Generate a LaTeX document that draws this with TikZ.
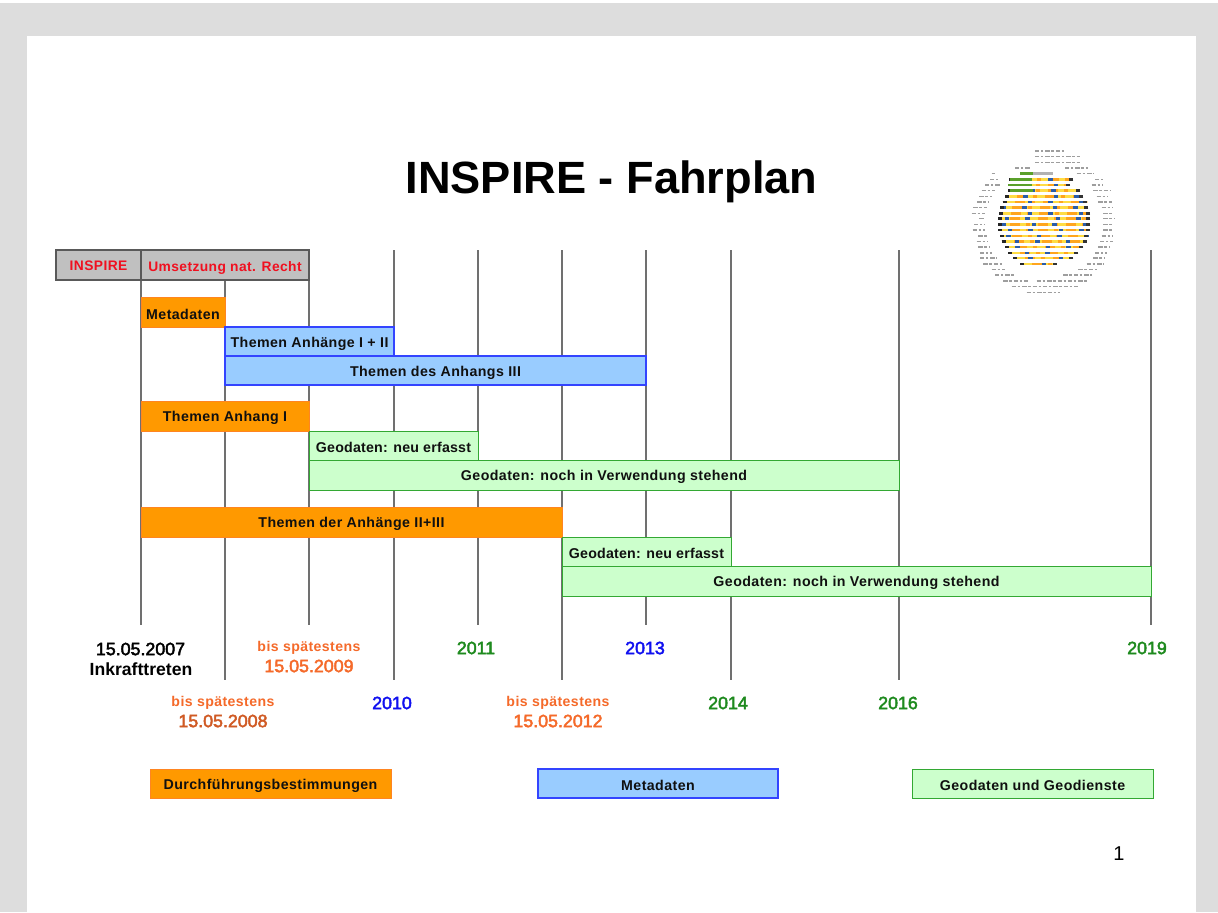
\documentclass[tikz,border=0pt]{standalone}
\usepackage{fontspec}
\setmainfont{Liberation Sans}
\definecolor{pagegrey}{HTML}{DDDDDD}
\definecolor{axisgrey}{HTML}{707070}
\definecolor{barorange}{HTML}{FF9900}
\definecolor{edgeorange}{HTML}{FF7A33}
\definecolor{barblue}{HTML}{99CCFF}
\definecolor{edgeblue}{HTML}{3344FF}
\definecolor{bargreen}{HTML}{CCFFCC}
\definecolor{edgegreen}{HTML}{33A833}
\definecolor{bargrey}{HTML}{C0C0C0}
\definecolor{txtred}{HTML}{F01020}
\definecolor{txtorange}{HTML}{F56A2A}
\definecolor{txtgreen}{HTML}{1E8A1E}
\definecolor{txtblue}{HTML}{1010F0}
\definecolor{txtdark}{HTML}{101010}
\definecolor{logoyellow}{HTML}{FFDD44}
\definecolor{logoorange}{HTML}{FFA51E}
\definecolor{logoblue}{HTML}{2A5CA8}
\definecolor{logogreen}{HTML}{5AA02A}
\newfontfamily\spaced[LetterSpace=3]{Liberation Sans}
\newfontfamily\tight[LetterSpace=1.5]{Liberation Sans}
\newfontfamily\semibold[FakeBold=2.6]{Liberation Sans}
\tikzset{
  x=0.5pt,y=-0.5pt,
  axisline/.style={draw=axisgrey,line width=0.85pt},
  barlabel/.style={font=\fontsize{7.1}{8}\selectfont\spaced\bfseries,text=txtdark,inner sep=0pt,yshift=-1.1pt},
  orangebar/.style={draw=edgeorange!65!barorange,fill=barorange,line width=0.5pt},
  bluebar/.style={draw=edgeblue,fill=barblue,line width=0.6pt},
  greenbar/.style={draw=edgegreen,fill=bargreen,line width=0.5pt},
  greybar/.style={draw=black!65,fill=bargrey,line width=0.6pt},
  datelabel/.style={font=\fontsize{8.9}{10}\selectfont\semibold,inner sep=0pt},
  smalllabel/.style={font=\fontsize{7.05}{8}\selectfont\spaced\bfseries,inner sep=0pt},
  headlabel/.style={font=\fontsize{6.9}{8}\selectfont\spaced\bfseries,inner sep=0pt,text=txtred},
  logostripe/.style={line width=1.2pt},
  logodash/.style={line width=0.8pt,draw=black!38,dash pattern=on 2.2pt off 0.8pt on 1.2pt off 1pt},
}
\begin{document}
\begin{tikzpicture}
\useasboundingbox (0,0) rectangle (1218,912);
\fill[white] (0,0) rectangle (1218,912);
\fill[pagegrey] (0,3) rectangle (1218,912);
\fill[white] (27,36) rectangle (1196,912);

\node[inner sep=0pt,font=\fontsize{22.6}{26}\selectfont\bfseries] (title) at (611.5,182) {INSPIRE - Fahrplan};

% grid lines
\foreach \gx/\gt/\gb in {141/280/625,225/280/680,309/280/625,394/250/680,478/250/625,562/250/680,646/250/625,731/250/680,899/250/680,1151/250/625}
  \draw[axisline] (\gx,\gt) -- (\gx,\gb);

% header
\draw[greybar] (56,250) rectangle (141,280) node[midway,name=hinspire,headlabel,yshift=-0.2pt] {INSPIRE};
\draw[greybar] (141,250) rectangle (309,280) node[midway,name=hrecht,headlabel,yshift=-1.4pt] {Umsetzung nat. Recht};

% bars
\draw[orangebar] (141,297) rectangle (225,327) node[midway,name=b1,barlabel] {Metadaten};
\draw[bluebar] (225,327) rectangle (394,356) node[midway,name=b2,barlabel] {Themen Anhänge I + II};
\draw[bluebar] (225,356) rectangle (646,385) node[midway,name=b3,barlabel] {Themen des Anhangs III};
\draw[orangebar] (141,401) rectangle (309,431) node[midway,name=b4,barlabel] {Themen Anhang I};
\draw[greenbar] (309,431) rectangle (478,460) node[midway,name=b5,barlabel,font=\fontsize{7.1}{8}\selectfont\tight\bfseries] {Geodaten: neu erfasst};
\draw[greenbar] (309,460) rectangle (899,490) node[midway,name=b6,barlabel] {Geodaten: noch in Verwendung stehend};
\draw[orangebar] (141,507) rectangle (562,537) node[midway,name=b7,barlabel] {Themen der Anhänge II+III};
\draw[greenbar] (562,537) rectangle (731,566) node[midway,name=b8,barlabel,font=\fontsize{7.1}{8}\selectfont\tight\bfseries] {Geodaten: neu erfasst};
\draw[greenbar] (562,566) rectangle (1151,596) node[midway,name=b9,barlabel] {Geodaten: noch in Verwendung stehend};

% dates
\node[datelabel,text=black] (d1) at (140.5,649) {15.05.2007};
\node[datelabel,text=black,font=\fontsize{8.8}{10}\selectfont\bfseries] (d1b) at (141,669) {Inkrafttreten};
\node[smalllabel,text=txtorange] (d2) at (309,648) {bis spätestens};
\node[datelabel,text=txtorange] (d2b) at (309,666) {15.05.2009};
\node[smalllabel,text=txtorange] (d3) at (223,703) {bis spätestens};
\node[datelabel,text=txtorange!85!black] (d3b) at (223,721) {15.05.2008};
\node[datelabel,text=txtblue] (d4) at (392,703) {2010};
\node[datelabel,text=txtgreen] (d5) at (476,648) {2011};
\node[smalllabel,text=txtorange] (d6) at (558,703) {bis spätestens};
\node[datelabel,text=txtorange] (d6b) at (558,721) {15.05.2012};
\node[datelabel,text=txtblue] (d7) at (645,648) {2013};
\node[datelabel,text=txtgreen] (d8) at (728,703) {2014};
\node[datelabel,text=txtgreen] (d9) at (898,703) {2016};
\node[datelabel,text=txtgreen] (d10) at (1147,648) {2019};

% legend
\draw[orangebar] (150,769) rectangle (391,798) node[midway,name=l1,barlabel] {Durchführungsbestimmungen};
\draw[bluebar] (538,769) rectangle (778,798) node[midway,name=l2,barlabel] {Metadaten};
\draw[greenbar] (912,769) rectangle (1153,798) node[midway,name=l3,barlabel] {Geodaten und Geodienste};

\node[inner sep=0pt,font=\fontsize{10}{12}\selectfont] (pageno) at (1119,854) {1};

% logo: globe of stripes; numbers are 3x zoom offsets from (950,140)
\begin{scope}[shift={(950,140)},x=0.1667pt,y=-0.1667pt]
\foreach \ly/\la/\lb in {33/255/345,50/255/390,68/255/390,84/195/240,84/345/415,101/125/135,101/380/430,118/120/150,118/435/460,135/105/150,135/425/460,152/95/135,152/430/480,169/88/125,169/440/475,186/82/115,186/445/485,203/70/110,203/455/490,220/65/105,220/460/490,236/88/105,236/460/495,253/72/105,253/460/490,270/68/105,270/460/490,287/85/110,287/455/490,304/80/112,304/450/490,321/85/120,321/445/480,338/90/125,338/435/470,354/90/142,354/430/465,371/100/160,371/410/460,388/125/165,388/385/445,405/135/195,405/340/425,422/160/235,422/260/410,439/185/385,457/230/330}
  \draw[logodash] (\la,\ly) -- (\lb,\ly);
\foreach \ly/\la/\lb in {118/178/370,135/175/360,152/175/390,169/165/400,186/158/410,203/150/415,220/148/420,236/145/420,253/145/420,270/145/420,287/150/415,304/155/410,321/165/400,338/175/385,354/190/370,371/210/320}{
  \draw[logostripe,draw=logoyellow] (\la,\ly) -- (\lb,\ly);
  \draw[logostripe,draw=logoorange,dash pattern=on 2pt off 4pt on 5pt off 3pt] (\la,\ly) -- (\lb,\ly);
  \draw[logostripe,draw=logoblue,dash pattern=on 2.5pt off 13pt on 2pt off 8pt,dash phase=\ly*0.7] (\la,\ly) -- (\lb,\ly);
  \draw[logostripe,draw=black!85] (\la,\ly) -- ++(12,0);
  \draw[logostripe,draw=black!80] (\lb,\ly) -- ++(-12,0);
}
\foreach \ly/\la/\lb in {101/210/250,118/180/245,135/175/245,152/180/250}
  \draw[logostripe,draw=logogreen] (\la,\ly) -- (\lb,\ly);
\draw[logostripe,draw=black!30] (250,101) -- (310,101);
\end{scope}
\end{tikzpicture}
\end{document}
